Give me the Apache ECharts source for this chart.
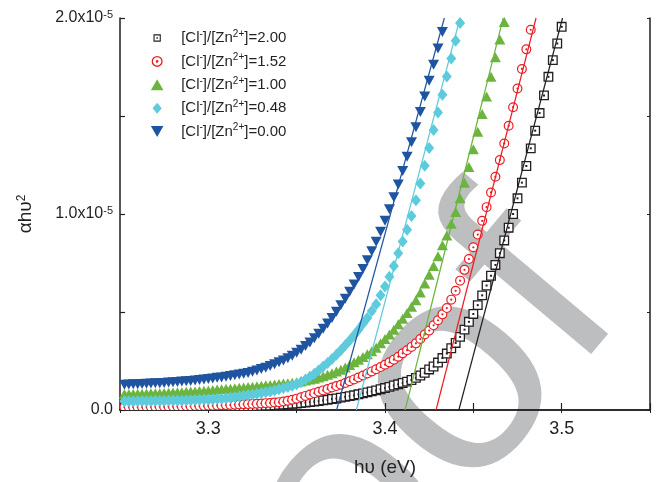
<!DOCTYPE html>
<html><head><meta charset="utf-8">
<script src="https://cdn.jsdelivr.net/npm/echarts@6/dist/echarts.min.js"></script>
<style>html,body{margin:0;padding:0;background:#fff}#c{width:659px;height:482px}</style>
</head><body><div id="c"></div>
<script>
// photon energy grid (eV)
const energy = [3.2525,3.255,3.2575,3.26,3.2625,3.265,3.2675,3.27,3.2725,3.275,
3.2775,3.28,3.2825,3.285,3.2875,3.29,3.2925,3.295,3.2975,3.3,
3.3025,3.305,3.3075,3.31,3.3125,3.315,3.3175,3.32,3.3225,3.325,
3.3275,3.33,3.3325,3.335,3.3375,3.34,3.3425,3.345,3.3475,3.35,
3.3525,3.355,3.3575,3.36,3.3625,3.365,3.3675,3.37,3.3725,3.375,
3.3775,3.38,3.3825,3.385,3.3875,3.39,3.3925,3.395,3.3975,3.4,
3.4025,3.405,3.4075,3.41,3.4125,3.415,3.4175,3.42,3.4225,3.425,
3.4275,3.43,3.4325,3.435,3.4375,3.44,3.4425,3.445,3.4475,3.45,
3.4525,3.455,3.4575,3.46,3.4625,3.465,3.4675,3.47,3.4725,3.475,
3.4775,3.48,3.4825,3.485,3.4875,3.49,3.4925,3.495,3.4975,3.5];

// (alpha h nu)^2 in units of 1e-5
const y200 = [0.006,0.006,0.006,0.007,0.007,0.007,0.007,0.008,0.008,0.008,
0.008,0.009,0.009,0.009,0.010,0.010,0.011,0.011,0.012,0.012,
0.012,0.013,0.013,0.014,0.014,0.015,0.016,0.017,0.018,0.019,
0.020,0.021,0.022,0.023,0.024,0.026,0.027,0.029,0.031,0.033,
0.035,0.038,0.040,0.043,0.046,0.049,0.052,0.056,0.059,0.063,
0.067,0.071,0.075,0.080,0.085,0.090,0.095,0.100,0.106,0.112,
0.118,0.125,0.131,0.138,0.145,0.153,0.164,0.176,0.190,0.207,
0.222,0.242,0.265,0.288,0.315,0.342,0.373,0.410,0.450,0.490,
0.535,0.585,0.635,0.685,0.740,0.800,0.865,0.930,1.000,1.080,
1.160,1.245,1.335,1.425,1.515,1.605,1.700,1.785,1.870,1.955];

const y152 = [0.015,0.015,0.015,0.015,0.016,0.016,0.016,0.016,0.017,0.017,
0.017,0.018,0.018,0.018,0.019,0.019,0.020,0.020,0.021,0.022,
0.022,0.023,0.024,0.025,0.026,0.027,0.028,0.029,0.030,0.031,
0.032,0.033,0.035,0.036,0.038,0.040,0.043,0.047,0.052,0.058,
0.065,0.072,0.079,0.086,0.093,0.100,0.107,0.115,0.122,0.129,
0.138,0.147,0.156,0.166,0.176,0.186,0.197,0.208,0.219,0.231,
0.243,0.257,0.272,0.289,0.305,0.322,0.340,0.362,0.385,0.405,
0.432,0.458,0.488,0.520,0.563,0.608,0.660,0.715,0.770,0.830,
0.895,0.965,1.035,1.110,1.190,1.275,1.360,1.450,1.545,1.640,
1.740,1.840,1.940];

const y100 = [0.081,0.082,0.082,0.083,0.083,0.084,0.085,0.086,0.086,0.087,
0.088,0.089,0.090,0.091,0.093,0.094,0.095,0.097,0.098,0.100,
0.102,0.104,0.106,0.108,0.109,0.111,0.113,0.115,0.117,0.119,
0.121,0.124,0.126,0.128,0.130,0.133,0.135,0.137,0.139,0.141,
0.145,0.150,0.155,0.160,0.166,0.172,0.180,0.188,0.196,0.205,
0.217,0.230,0.243,0.256,0.270,0.285,0.300,0.318,0.340,0.362,
0.385,0.410,0.437,0.465,0.495,0.527,0.560,0.600,0.645,0.690,
0.735,0.785,0.840,0.890,0.950,1.010,1.080,1.160,1.240,1.330,
1.420,1.510,1.600,1.700,1.800,1.890,1.980];

const y048 = [0.045,0.045,0.045,0.046,0.046,0.046,0.046,0.047,0.047,0.047,
0.048,0.048,0.049,0.049,0.050,0.050,0.051,0.052,0.053,0.054,
0.055,0.057,0.058,0.060,0.062,0.065,0.069,0.073,0.076,0.079,
0.083,0.087,0.091,0.095,0.100,0.106,0.112,0.117,0.124,0.132,
0.143,0.155,0.170,0.185,0.203,0.222,0.240,0.260,0.282,0.305,
0.330,0.355,0.382,0.410,0.440,0.470,0.505,0.540,0.585,0.630,
0.680,0.735,0.800,0.860,0.920,0.990,1.070,1.156,1.246,1.337,
1.428,1.518,1.609,1.702,1.793,1.884,1.975];

const y000 = [0.129,0.130,0.131,0.132,0.133,0.134,0.135,0.136,0.137,0.138,
0.140,0.141,0.143,0.145,0.147,0.148,0.151,0.153,0.156,0.158,
0.161,0.164,0.166,0.170,0.174,0.177,0.181,0.185,0.189,0.195,
0.202,0.209,0.216,0.225,0.233,0.243,0.253,0.264,0.277,0.292,
0.308,0.326,0.345,0.366,0.389,0.414,0.441,0.470,0.501,0.534,
0.568,0.603,0.640,0.679,0.720,0.764,0.810,0.858,0.910,0.965,
1.024,1.085,1.150,1.220,1.292,1.366,1.442,1.520,1.600,1.680,
1.762,1.845,1.928];

// linear fits: x-intercept (band gap) and energy where fit reaches top of axis
const ratios   = ['2.00','1.52','1.00','0.48','0.00'];
const fitStart = [3.4418,3.4289,3.4114,3.3838,3.3726];
const fitEnd   = [3.5005,3.4855,3.4669,3.4425,3.4336];
const fitYEnd  = 2.0;

const xTickLabels = ['3.3','3.4','3.5'];
const yTickValues = [0,1,2];
const yTickMain = ['0.0','1.0x10','2.0x10'];
const yTickExp  = ['','-5','-5'];

const colors = ['#231f20','#ed1c24','#6cb43f','#5ecbdc','#1f54a1'];
const FONT = '"Liberation Sans", Arial, sans-serif';

function pairs(ys){ return ys.map((v,i)=>[energy[i], v]); }

function squareItem(params, api){
  const p = api.coord([api.value(0), api.value(1)]);
  const h = 4.3;
  return {type:'group', children:[
    {type:'rect', shape:{x:p[0]-h, y:p[1]-h, width:2*h, height:2*h}, style:{fill:'#fff', stroke:colors[0], lineWidth:1.3}},
    {type:'rect', shape:{x:p[0]-1, y:p[1]-1, width:2, height:2}, style:{fill:colors[0]}}
  ]};
}
function circleItem(params, api){
  const p = api.coord([api.value(0), api.value(1)]);
  return {type:'group', children:[
    {type:'circle', shape:{cx:p[0], cy:p[1], r:4.4}, style:{fill:'#fff', stroke:colors[1], lineWidth:1.2}},
    {type:'circle', shape:{cx:p[0], cy:p[1], r:1.1}, style:{fill:colors[1]}}
  ]};
}

const series = [
  {name:ratios[0], type:'custom', renderItem:squareItem, data:pairs(y200), clip:true, encode:{x:0,y:1}, itemStyle:{color:colors[0]}},
  {name:ratios[1], type:'custom', renderItem:circleItem, data:pairs(y152), clip:true, encode:{x:0,y:1}, itemStyle:{color:colors[1]}},
  {name:ratios[2], type:'scatter', data:pairs(y100), symbol:'triangle', symbolSize:[11,10], itemStyle:{color:colors[2], opacity:1}},
  {name:ratios[3], type:'scatter', data:pairs(y048), symbol:'diamond', symbolSize:[10,12], itemStyle:{color:colors[3], opacity:1}},
  {name:ratios[4], type:'scatter', data:pairs(y000), symbol:'triangle', symbolRotate:180, symbolSize:[11,10], itemStyle:{color:colors[4], opacity:1}}
];
for (let i=0;i<ratios.length;i++){
  series.push({type:'line', data:[[fitStart[i],0],[fitEnd[i],fitYEnd]], symbol:'none', clip:true, z:4,
    lineStyle:{color:colors[i], width:1.2}, silent:true});
}

const sup = {fontSize:11, lineHeight:8, verticalAlign:'top', fontFamily:FONT, color:'#231f20'};

const legendIcons = [
  'path://M-5,-5M0,0H20V20H0Z M3,3V17H17V3Z M8,8H12V12H8Z M25,25',
  'path://M-3,10M0,10A10,10 0 1,1 20,10A10,10 0 1,1 0,10Z M2.4,10A7.6,7.6 0 1,0 17.6,10A7.6,7.6 0 1,0 2.4,10Z M7.6,10A2.4,2.4 0 1,1 12.4,10A2.4,2.4 0 1,1 7.6,10Z M23,10',
  'path://M6,0L12,10.5L0,10.5Z',
  'path://M5,0L10,6L5,12L0,6Z',
  'path://M0,0L12,0L6,10.5Z'
];

const option = {
  animation:false,
  backgroundColor:'#fff',
  textStyle:{fontFamily:FONT},
  grid:{left:120, right:9, top:18, bottom:70, containLabel:false},
  graphic:[{
    type:'text', x:103.4, y:806.6, rotation:50*Math.PI/180, z:-10, silent:true,
    style:{text:'Proof', font:'300px "Liberation Sans", Arial, sans-serif', fill:'#bcbec0', align:'left', verticalAlign:'middle'}
  }],
  legend:{
    orient:'vertical', left:145, top:24, itemWidth:38, itemHeight:11, itemGap:5.4,
    selectedMode:false,
    data: ratios.map((r,i)=>({name:r, icon:legendIcons[i], itemStyle:{color:colors[i]}})),
    formatter: name => '[Cl{s|-}]/[Zn{s|2+}]=' + name,
    textStyle:{fontSize:15, lineHeight:18, color:'#231f20', fontFamily:FONT,
      rich:{s:{fontSize:10, lineHeight:5, verticalAlign:'top', fontFamily:FONT, color:'#231f20'}}}
  },
  xAxis:[{
    type:'value', min:3.25, max:3.55, interval:0.05, position:'bottom',
    name:'hυ (eV)', nameLocation:'middle', nameGap:48,
    nameTextStyle:{fontSize:19, color:'#231f20', fontFamily:FONT},
    axisLine:{lineStyle:{color:'#231f20', width:1.5}},
    axisTick:{inside:true, length:7, lineStyle:{color:'#231f20', width:1.2}},
    axisLabel:{margin:10, fontSize:18, color:'#231f20', fontFamily:FONT,
      formatter: v => { const t = v.toFixed(1); return (Math.abs(v*10-Math.round(v*10))<1e-6 && xTickLabels.includes(t)) ? t : ''; }},
    splitLine:{show:false}
  },{
    type:'value', min:3.25, max:3.55, interval:0.05, position:'top',
    axisLine:{lineStyle:{color:'#231f20', width:1.5}},
    axisTick:{inside:true, length:3, lineStyle:{color:'#231f20'}},
    axisLabel:{show:false}, splitLine:{show:false}
  }],
  yAxis:[{
    type:'value', min:0, max:2, interval:0.5, position:'left',
    name:'αhυ{s|2}', nameLocation:'middle', nameGap:84, nameRotate:90,
    nameTextStyle:{fontSize:19, lineHeight:20, color:'#231f20', fontFamily:FONT, rich:{s:{fontSize:12, lineHeight:8, verticalAlign:'top', fontFamily:FONT, color:'#231f20'}}},
    axisLine:{lineStyle:{color:'#231f20', width:1.5}},
    axisTick:{inside:true, length:5, lineStyle:{color:'#231f20', width:1.2}},
    axisLabel:{margin:7, fontSize:16, lineHeight:18, color:'#231f20', fontFamily:FONT, rich:{s:sup},
      formatter: v => { const i = yTickValues.findIndex(t=>Math.abs(t-v)<1e-9); if (i<0) return ''; return yTickExp[i] ? yTickMain[i]+'{s|'+yTickExp[i]+'}' : yTickMain[i]; }},
    splitLine:{show:false}
  },{
    type:'value', min:0, max:2, interval:0.5, position:'right',
    axisLine:{lineStyle:{color:'#231f20', width:1.5}},
    axisTick:{inside:true, length:3, lineStyle:{color:'#231f20'}},
    axisLabel:{show:false}, splitLine:{show:false}
  }],
  series: series
};
const chart = echarts.init(document.getElementById('c'), null, {renderer:'canvas'});
chart.setOption(option);
</script>
</body></html>
